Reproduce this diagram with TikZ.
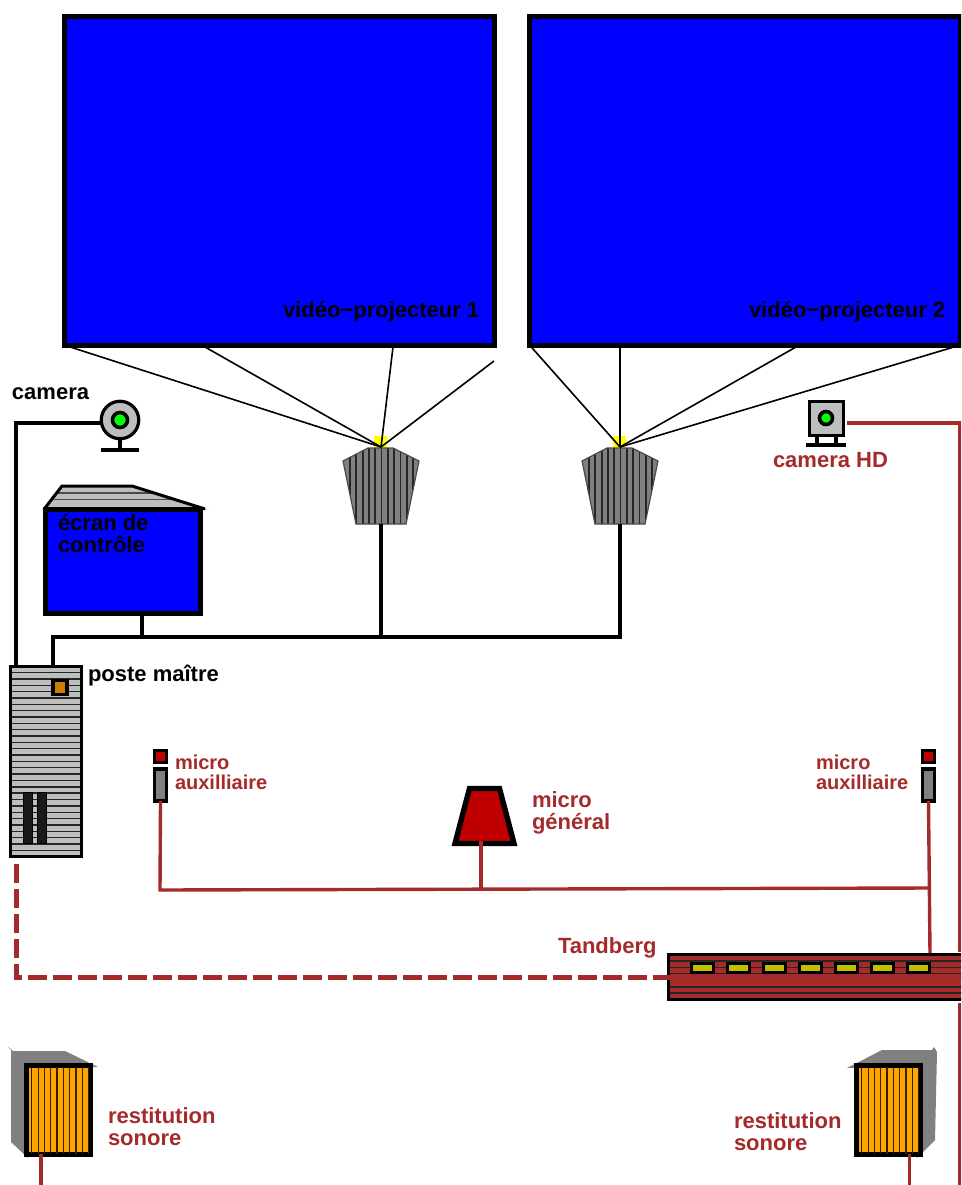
\documentclass[tikz,border=0pt]{standalone}
\usepackage{fontspec}
\setmainfont{Liberation Sans}
\usetikzlibrary{positioning,calc}
\definecolor{cable}{HTML}{A52A2A}
\definecolor{lcd}{HTML}{0000FF}
\definecolor{metal}{HTML}{BEBEBE}
\definecolor{stone}{HTML}{808080}
\definecolor{lamp}{HTML}{FFFF00}
\definecolor{lens}{HTML}{00FF00}
\definecolor{mic}{HTML}{C00000}
\definecolor{cone}{HTML}{FFA500}
\definecolor{led}{HTML}{C0C000}
\definecolor{btn}{HTML}{CC8000}
\tikzset{
  every node/.style={outer sep=0pt,inner sep=0pt},
  screen/.style={draw=black,fill=lcd,line width=5pt,rectangle},
  lbl/.style={font=\bfseries\fontsize{22}{22}\selectfont,align=left,anchor=west},
  lblsm/.style={font=\bfseries\fontsize{20}{20}\selectfont,align=left,anchor=west,text=cable},
  lblred/.style={lbl,text=cable},
  beam/.style={black,line width=1.6pt},
  wire/.style={black,line width=3.2pt},
  wirered/.style={cable,line width=3.4pt},
  slat/.style={black!85,line width=1.4pt},
  micbox/.style={draw=black,line width=3.6pt,rectangle,minimum width=12pt},
}
\begin{document}
\begin{tikzpicture}[x=1pt,y=-1pt]
\useasboundingbox (0,0) rectangle (961,1185);
\clip (0,0) rectangle (961,1185);
% screens
\node[screen,minimum width=430pt,minimum height=328pt] (scrA) at (279,181) {};
\node[screen,minimum width=431pt,minimum height=328pt] (scrB) at (745,181) {};
\node[lbl] (lblA) at (283,311.5) {vidéo−projecteur 1};
\node[lbl] (lblB) at (749,311.5) {vidéo−projecteur 2};
% projectors
\foreach \dx/\nm in {0/A,239/B}{
  \fill[lamp] (374+\dx,436) rectangle (387+\dx,449);
  \coordinate (tip\nm) at (381+\dx,447);
  \coordinate (base\nm) at (381+\dx,524);
  \begin{scope}
    \clip (343+\dx,461) -- (368+\dx,448) -- (393+\dx,448) -- (419+\dx,461) -- (406+\dx,524) -- (356+\dx,524) -- cycle;
    \fill[stone] (343+\dx,445) rectangle (419+\dx,526);
    \foreach \sx in {350,356.3,...,415}{
      \draw[black!85,line width=1.8pt] (\sx+\dx,445) -- (\sx+\dx,526);
    }
  \end{scope}
  \draw[black!70,line width=1.2pt] (343+\dx,461) -- (368+\dx,448) -- (393+\dx,448) -- (419+\dx,461) -- (406+\dx,524) -- (356+\dx,524) -- cycle;
}
\coordinate (beamAd) at (494,361);
\coordinate (beamAb) at (205,347);
\coordinate (beamAc) at (393,347);
\coordinate (beamBb) at (620,347);
\coordinate (beamBc) at (796,347);
\draw[beam] (scrA.south west) -- (tipA);
\draw[beam] (beamAb) -- (tipA);
\draw[beam] (beamAc) -- (tipA);
\draw[beam] (beamAd) -- (tipA);
\draw[beam] (scrB.south west) -- (tipB);
\draw[beam] (beamBb) -- (tipB);
\draw[beam] (beamBc) -- (tipB);
\draw[beam] (scrB.south east) -- (tipB);
% control screen
\begin{scope}
  \clip (45,508) -- (62,486) -- (132,486) -- (209,510) -- cycle;
  \fill[metal] (40,480) rectangle (215,512);
  \draw[black!70,line width=1.6pt] (40,493) -- (215,493);
  \draw[black!70,line width=1.6pt] (40,499.5) -- (215,499.5);
\end{scope}
\draw[black,line width=3pt] (45,508) -- (62,486) -- (132,486) -- (205,509);
\node[screen,minimum width=155pt,minimum height=104pt] (ctrl) at (123,561) {};
\node[lbl] (lblCtrl) at (58,534) {écran de\\contrôle};
% master station
\node[draw=black,fill=metal,line width=3.6pt,minimum width=71pt,minimum height=190pt] (pc) at (46,761.5) {};
\foreach \sy in {672.5,678.85,...,852}{
  \draw[slat] (12,\sy) -- (80,\sy);
}
\fill[metal] (69,852.5) rectangle (80,855);
\node[draw=black,fill=btn,line width=3.6pt,minimum width=13.5pt,minimum height=14pt] (pcbtn) at (60,687.5) {};
\node[draw=black,fill=black!90,line width=1.4pt,minimum width=9pt,minimum height=51pt] (slotA) at (28,818) {};
\node[draw=black,fill=black!90,line width=1.4pt,minimum width=9pt,minimum height=51pt] (slotB) at (42,818) {};
\node[lbl] (lblPc) at (88,676) {poste maître};
% black cables
\coordinate (busL) at (53,637);
\coordinate (busR) at (620,637);
\coordinate (busC) at (142,637);
\draw[wire] (baseA) -- (baseA |- busL);
\draw[wire] (baseB) -- (busR) -- (busL) -- (busL |- pc.north);
\draw[wire] (busC |- ctrl.south) -- (busC);
% camera
\node[circle,draw=black,fill=metal,line width=3.2pt,minimum size=37.5pt] (cam) at (120,420) {};
\node[circle,draw=black,fill=lens,line width=3.6pt,minimum size=15pt] (camlens) at (120,420) {};
\node[fill=black,minimum width=38pt,minimum height=4.6pt] (camfoot) at (120,450) {};
\draw[wire] (cam.south) -- (camfoot.north);
\coordinate (camturn) at (16,423);
\draw[wire] (cam.west |- camturn) -- (camturn) -- (camturn |- pc.north);
\node[lbl] (lblCam) at (12,394) {camera};
% camera HD
\node[draw=black,fill=metal,line width=3.6pt,minimum width=34pt,minimum height=34pt] (camhd) at (826.5,418.5) {};
\node[circle,draw=black,fill=lens,line width=3.6pt,minimum size=13pt] (hdlens) at (826,418) {};
\node[fill=black,minimum width=40pt,minimum height=4.6pt] (hdfoot) at (826,445) {};
\draw[black,line width=3.4pt] (817,437) -- (817,444);
\draw[black,line width=3.4pt] (836,437) -- (836,444);
\node[lblred] (lblHd) at (773,460.5) {camera HD};
\coordinate (hdturn) at (960,423);
\coordinate (hdout) at (847,423);
\draw[wirered] (hdout) -- (hdturn) -- (960,952);
% mics
\foreach \mx/\nm in {160.5/L,928.5/R}{
  \node[micbox,fill=mic,minimum height=12pt] (mic\nm) at (\mx,756.5) {};
  \node[micbox,fill=stone,minimum height=32pt] (aux\nm) at (\mx,785) {};
}
\node[lblsm] (lblAuxL) at (175,772) {micro\\auxilliaire};
\node[lblsm] (lblAuxR) at (816,772) {micro\\auxilliaire};
\draw[line width=5.4pt,miter limit=10,fill=mic] (469.5,788.5) -- (499.5,788.5) -- (514,843.5) -- (455,843.5) -- cycle;
\coordinate (micG) at (481,841);
\node[lblred] (lblMic) at (532,812.5) {micro\\général};
% red cables
\coordinate (busRedL) at (160,890);
\coordinate (busRedR) at (930,888);
\draw[wirered] (micG) -- (micG |- busRedL);
\draw[wirered] (auxL.south) -- (busRedL) -- (busRedR);
\draw[wirered] (auxR.south) -- (930,954);
% Tandberg
\node[draw=black,fill=cable,line width=3.6pt,minimum width=297pt,minimum height=45pt,anchor=north west] (tdb) at (668.5,954.5) {};
\foreach \sy in {961,967.5,973.5,987,993}{
  \draw[black!85,line width=1.5pt] (670,\sy) -- (965,\sy);
}
\foreach \tx/\nm in {702.3/a,738.3/b,774.3/c,810.3/d,846.3/e,882.3/f,918.3/g}{
  \node[draw=black,fill=led,line width=3pt,minimum width=22pt,minimum height=9pt] (tdb\nm) at (\tx,968) {};
}
\node[lblred] (lblTdb) at (558,948) {Tandberg};
\coordinate (dashtop) at (16,864);
\draw[cable,line width=5pt,dash pattern=on 19pt off 6pt] (dashtop) -- (16,977) -- (tdb.west |- 0,977);
\draw[cable,line width=5pt] (tdb.west |- 0,977) -- (965,977);
\coordinate (wireout) at (960,1003);
\draw[wirered] (wireout) -- (960,1185);
% speakers
\fill[stone] (8,1047) -- (13,1051) -- (65,1051) -- (98,1067) -- (24,1067) -- (28,1158) -- (11,1142) -- (11,1050) -- cycle;
\fill[stone] (847,1068) -- (882,1050) -- (932,1050) -- (934,1047) -- (937,1052) -- (935,1140) -- (917,1158) -- (917,1067) -- cycle;
\foreach \bx/\nm in {24/L,854/R}{
  \node[draw=black,fill=cone,line width=5pt,minimum width=64pt,minimum height=89pt,anchor=north west] (spk\nm) at (\bx+2,1065) {};
  \foreach \sx in {6.3,12.6,...,64}{
    \draw[black!80!cone,line width=1.2pt] (\bx+1.5+\sx,1067) -- (\bx+1.5+\sx,1154);
  }
}
\node[lblred] (lblSpkL) at (108,1126.5) {restitution\\sonore};
\node[lblred] (lblSpkR) at (734,1131.5) {restitution\\sonore};
\coordinate (spkLout) at (41,1185);
\coordinate (spkRout) at (909.5,1185);
\draw[wirered] (spkLout |- spkL.south) -- (spkLout);
\draw[wirered] (spkRout |- spkR.south) -- (spkRout);
\end{tikzpicture}
\end{document}
